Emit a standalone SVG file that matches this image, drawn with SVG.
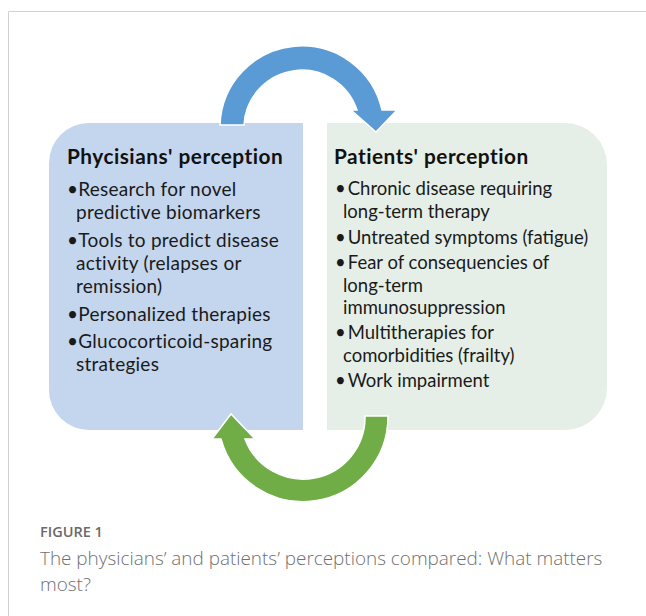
<svg xmlns="http://www.w3.org/2000/svg" width="646" height="616" viewBox="0 0 646 616">
  <style>
    .frame { fill: none; stroke: #d2d2d2; stroke-width: 1; }
    .title { font-family: Lato, "Liberation Sans", sans-serif; font-weight: 700; font-size: 20.8px; letter-spacing: 0.5px; fill: #111; }
    .item { font-family: Lato, "Liberation Sans", sans-serif; font-size: 19px; letter-spacing: 0.25px; fill: #1a1a1a; }
    .item-r { font-family: Lato, "Liberation Sans", sans-serif; font-size: 18.5px; letter-spacing: 0px; fill: #1a1a1a; }
    .fig { font-family: "Open Sans", "Liberation Sans", sans-serif; font-weight: 600; font-size: 14.5px; fill: #6a6a6a; }
    .cap { font-family: "Open Sans", "Liberation Sans", sans-serif; font-weight: 300; font-size: 18.9px; fill: #707070; }
    .arrow { stroke: #ffffff; stroke-width: 1.5; stroke-linejoin: miter; }
  </style>

  <!-- page frame -->
  <path class="frame" d="M8.5,616 V11.5 H646"/>

  <!-- left panel -->
  <g id="physicians">
    <path d="M303,123 H89 A40,40 0 0 0 49,163 V390 A40,40 0 0 0 89,430 H303 Z" fill="#c4d6ed"/>
    <text class="title" x="67" y="164">Phycisians' perception</text>
    <text class="item" x="67" y="196">•Research for novel</text>
    <text class="item" x="76" y="219">predictive biomarkers</text>
    <text class="item" x="67" y="247">•Tools to predict disease</text>
    <text class="item" x="76" y="270">activity (relapses or</text>
    <text class="item" x="76" y="293">remission)</text>
    <text class="item" x="67" y="321">•Personalized therapies</text>
    <text class="item" x="67" y="348">•Glucocorticoid-sparing</text>
    <text class="item" x="76" y="371">strategies</text>
  </g>

  <!-- right panel -->
  <g id="patients">
    <path d="M327,123 H565 A42,42 0 0 1 607,165 V388 A42,42 0 0 1 565,430 H327 Z" fill="#e6efe7"/>
    <text class="title" x="334" y="164">Patients' perception</text>
    <text class="item-r" x="335" y="195">•<tspan dx="2">Chronic disease requiring</tspan></text>
    <text class="item-r" x="343" y="218">long-term therapy</text>
    <text class="item-r" x="335" y="244">•<tspan dx="2">Untreated symptoms (fatigue)</tspan></text>
    <text class="item-r" x="335" y="269">•<tspan dx="2">Fear of consequencies of</tspan></text>
    <text class="item-r" x="343" y="292">long-term</text>
    <text class="item-r" x="343" y="314">immunosuppression</text>
    <text class="item-r" x="335" y="339">•<tspan dx="2">Multitherapies for</tspan></text>
    <text class="item-r" x="343" y="362">comorbidities (frailty)</text>
    <text class="item-r" x="335" y="387">•<tspan dx="2">Work impairment</tspan></text>
  </g>

  <!-- circular arrows linking the two panels -->
  <g id="connectors">
    <path class="arrow" fill="#5b9bd5" d="M220,125 A82,82 0 0 1 382,110 L397,110 L376,132 L351,110 L357,110 A58,58 0 0 0 244,125 Z"/>
    <path class="arrow" fill="#70ad47" d="M388,416 A85,85 0 0 1 221,439 L212,439 L231,414 L255,439 L245,439 A62,62 0 0 0 365,416 Z"/>
  </g>

  <!-- caption -->
  <text class="fig" x="40" y="537">FIGURE 1</text>
  <text class="cap" x="40" y="565">The physicians’ and patients’ perceptions compared: What matters</text>
  <text class="cap" x="40" y="591">most?</text>
</svg>
